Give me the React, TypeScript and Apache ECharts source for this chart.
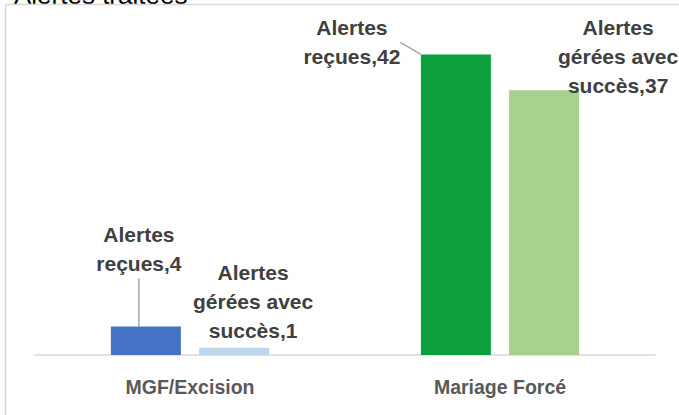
import React, { useEffect, useRef } from "react";
import * as echarts from "echarts";

const categories = ["MGF/Excision", "Mariage Forcé"];
const seriesNames = ["Alertes reçues", "Alertes gérées avec succès"];
const received = [4, 42];
const handled = [1, 37];
const titleFragment = "Alertes traitées";

// label offsets relative to default "top" position: [seriesIndex][dataIndex]
const labelOffsets = [
  [[-7, -43], [-104, 22]],
  [[19, 2], [74, 15]],
];

export default function App() {
  const ref = useRef<HTMLDivElement>(null);
  useEffect(() => {
    if (!ref.current) return;
    const chart = echarts.init(ref.current, undefined, { renderer: "svg" });
    const font = "'Liberation Sans', Arial, sans-serif";
    const labelBase = {
      show: true,
      position: "top",
      color: "#404040",
      fontFamily: font,
      fontWeight: "bold",
      fontSize: 21,
      lineHeight: 29,
      align: "center",
    };
    chart.setOption({
      animation: false,
      grid: { left: 35, right: 24, top: 33, bottom: 60 },
      xAxis: {
        type: "category",
        data: categories,
        axisLine: { lineStyle: { color: "#d9d9d9", width: 1.5 } },
        axisTick: { show: false },
        axisLabel: {
          color: "#595959",
          fontFamily: font,
          fontWeight: "bold",
          fontSize: 19.5,
          margin: 22,
        },
      },
      yAxis: {
        type: "value",
        min: 0,
        max: 45,
        show: false,
        splitLine: { show: false },
      },
      graphic: [
        {
          type: "text",
          x: 14,
          y: -18,
          style: {
            text: titleFragment,
            fill: "#000",
            fontFamily: font,
            fontSize: 26,
          },
          silent: true,
        },
        {
          type: "rect",
          shape: { x: 5.5, y: 4.5, width: 720, height: 440 },
          style: { fill: "none", stroke: "#d9d9d9", lineWidth: 1.5 },
          silent: true,
        },
      ],
      series: [
        {
          name: seriesNames[0],
          type: "bar",
          barWidth: 70,
          barGap: "26%",
          data: received.map((v, i) => ({
            value: v,
            itemStyle: { color: i === 0 ? "#4472c4" : "#0ca03c" },
          })),
          label: {
            ...labelBase,
            formatter: (p: any) => "Alertes\nreçues," + p.value,
          },
          labelLine: { show: true, lineStyle: { color: "#a6a6a6", width: 1.5 } },
          labelLayout: (p: any) => ({
            dx: labelOffsets[0][p.dataIndex][0],
            dy: labelOffsets[0][p.dataIndex][1],
          }),
        },
        {
          name: seriesNames[1],
          type: "bar",
          barWidth: 70,
          data: handled.map((v, i) => ({
            value: v,
            itemStyle: { color: i === 0 ? "#bdd7ee" : "#a9d18e" },
          })),
          label: {
            ...labelBase,
            formatter: (p: any) => "Alertes\ngérées avec\nsuccès," + p.value,
          },
          labelLine: { show: false },
          labelLayout: (p: any) => ({
            dx: labelOffsets[1][p.dataIndex][0],
            dy: labelOffsets[1][p.dataIndex][1],
          }),
        },
      ],
    });
    return () => chart.dispose();
  }, []);
  return (
    <div
      ref={ref}
      style={{
        position: "fixed",
        left: 0,
        top: 0,
        width: 679,
        height: 415,
        background: "#fff",
        overflow: "hidden",
      }}
    />
  );
}
